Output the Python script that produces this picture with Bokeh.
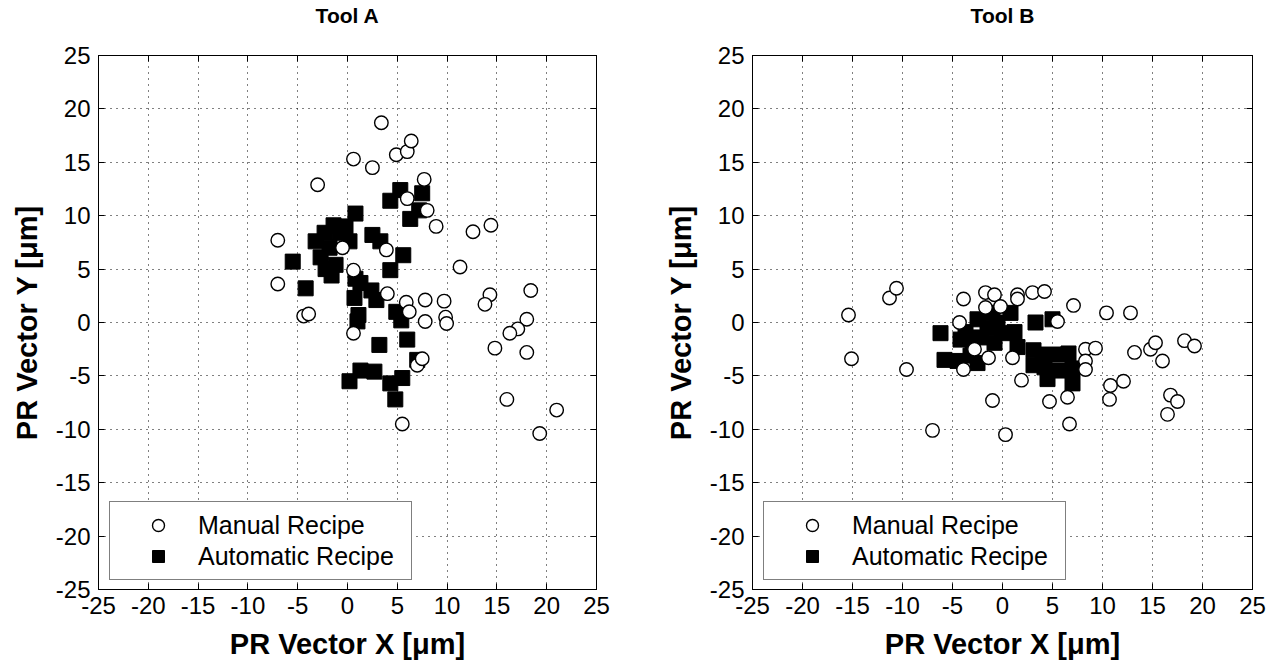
from bokeh.plotting import figure
from bokeh.models import (LinearAxis, Legend, LegendItem, Range1d, FixedTicker,
                          CustomLabelingPolicy)
from bokeh.layouts import row
from bokeh.embed import file_html
from bokeh.resources import INLINE

FONT = "Liberation Sans"

ticks = [-25, -20, -15, -10, -5, 0, 5, 10, 15, 20, 25]
tick_labels = ["-25", "-20", "-15", "-10", "-5", "0", "5", "10", "15", "20", "25"]
titles = ["Tool A", "Tool B"]
series_names = ["Manual Recipe", "Automatic Recipe"]
x_label = "PR Vector X [\u03bcm]"
y_label = "PR Vector Y [\u03bcm]"

# Tool A - Manual Recipe
a_manual_x = [-7.0, -7.0, -4.4, -3.9, -3.0, -0.5, 0.6, 0.6, 0.6, 2.5, 3.4, 4.0, 3.9, 4.9, 6.0,
              6.4, 6.0, 7.7, 8.0, 8.9, 5.9, 6.2, 7.8, 7.8, 9.7, 9.85, 9.95, 11.3, 12.6, 14.4,
              14.3, 13.8, 18.4, 18.0, 17.1, 16.3, 14.8, 18.0, 16.0, 21.0, 19.3, 5.5, 7.0, 7.5]
a_manual_y = [7.7, 3.6, 0.6, 0.8, 12.9, 7.0, 4.9, -1.0, 15.3, 14.5, 18.7, 2.7, 6.8, 15.7, 16.0,
              17.0, 11.6, 13.4, 10.5, 9.0, 1.9, 1.0, 2.1, 0.1, 2.0, 0.5, -0.1, 5.2, 8.5, 9.1,
              2.6, 1.7, 3.0, 0.3, -0.6, -1.0, -2.4, -2.8, -7.2, -8.2, -10.4, -9.5, -4.0, -3.4]

# Tool A - Automatic Recipe
a_auto_x = [-5.5, -4.2, -3.2, -2.7, -2.3, -2.2, -1.8, -1.4, -1.2, -0.8, -0.2, 0.2, 0.8, -1.6,
            0.8, 1.3, 2.5, 3.3, 5.6, 4.3, 2.4, 2.9, 0.7, 1.1, 1.0, 4.9, 5.4, 6.0, 3.2, 7.0,
            1.3, 2.7, 0.2, 4.3, 5.5, 4.8, 5.3, 4.3, 7.5, 7.2, 6.3]
a_auto_y = [5.7, 3.2, 7.6, 6.1, 8.4, 5.0, 7.0, 9.1, 5.4, 8.4, 9.0, 7.6, 10.2, 4.4,
            4.1, 3.7, 8.2, 7.6, 6.3, 4.9, 3.0, 2.1, 2.3, 0.7, 0.1, 1.0, 0.2, -1.6, -2.1, -3.5,
            -4.5, -4.6, -5.5, -5.7, -5.2, -7.2, 12.4, 11.4, 12.1, 10.5, 9.7]

# Tool B - Manual Recipe
b_manual_x = [-15.4, -15.1, -11.3, -10.6, -9.6, -7.0, -3.9, -4.3, -3.9, -1.7, -0.8, -1.7, -0.2,
              1.5, 1.5, 3.0, 4.2, 7.1, 10.4, 12.8, 5.5, -1.0, 0.3, 1.9, 1.0, -1.4, -2.8, 4.7,
              6.5, 6.7, 8.3, 9.3, 8.3, 8.3, 10.8, 12.1, 10.7, 13.2, 14.8, 15.3, 16.0, 18.2,
              19.2, 16.8, 17.5, 16.5]
b_manual_y = [0.7, -3.4, 2.3, 3.2, -4.4, -10.1, 2.2, 0.0, -4.4, 2.8, 2.6, 1.4, 1.5,
              2.6, 2.2, 2.8, 2.9, 1.6, 0.9, 0.9, 0.1, -7.3, -10.5, -5.4, -3.3, -3.3, -2.5, -7.4,
              -7.0, -9.5, -2.5, -2.4, -3.6, -4.4, -5.9, -5.5, -7.2, -2.8, -2.5, -1.9, -3.6, -1.7,
              -2.2, -6.8, -7.4, -8.6]

# Tool B - Automatic Recipe
b_auto_x = [-6.2, -5.8, -4.2, -4.5, -3.7, -3.2, -2.5, -2.5, -2.2, -1.0, -0.8, -0.5, 0.8, 1.2,
            1.5, -1.5, -3.0, 0.0, 3.3, 5.0, 3.1, 3.1, 4.0, 4.5, 5.5, 5.5, 6.6, 7.0, 7.0, 4.2]
b_auto_y = [-1.0, -3.5, -1.6, -3.6, -0.9, -3.1, 0.3, -3.8, -1.4, 0.9, -1.9, 0.0, 0.9, -0.9,
            -2.3, -0.5, -2.0, -1.0, 0.0, 0.3, -2.6, -4.0, -3.0, -5.3, -3.0, -4.5, -2.9, -4.3,
            -5.7, -4.2]

label_map = {t: s for t, s in zip(ticks, tick_labels)}
blank_map = {t: "" for t in ticks}
NO_LABELS = "for (const i of indices) indices.unset(i)"


def make_panel(title, mx, my, ax, ay, left, right):
    p = figure(width=637, height=662, x_range=Range1d(ticks[0], ticks[-1]),
               y_range=Range1d(ticks[0], ticks[-1]),
               output_backend="svg", toolbar_location=None, title=None,
               min_border_left=left, min_border_right=right,
               min_border_top=55, min_border_bottom=72,
               x_axis_label=x_label, y_axis_label=y_label)
    p.outline_line_color = "black"
    p.outline_line_width = 1

    for ax_ in (p.xaxis[0], p.yaxis[0]):
        ax_.ticker = FixedTicker(ticks=ticks)
        ax_.major_label_overrides = label_map
        ax_.major_label_text_font = FONT
        ax_.major_label_text_font_size = "24px"
        ax_.major_label_text_color = "black"
        ax_.major_tick_in = 6
        ax_.major_tick_out = 0
        ax_.minor_tick_line_color = None
        ax_.axis_line_color = "black"
        ax_.major_tick_line_color = "black"
        ax_.axis_label_text_font = FONT
        ax_.axis_label_text_font_size = "29px"
        ax_.axis_label_text_font_style = "bold"
        ax_.axis_label_text_color = "black"
    p.xaxis[0].major_label_standoff = 7
    p.xaxis[0].axis_label_standoff = 11
    p.yaxis[0].major_label_standoff = 8
    p.yaxis[0].axis_label_standoff = 10

    # top axis (carries the panel title) and right axis: inward ticks only
    top = LinearAxis(ticker=FixedTicker(ticks=ticks), major_label_overrides=blank_map,
                     major_label_policy=CustomLabelingPolicy(code=NO_LABELS),
                     major_label_text_font_size="12px",
                     major_tick_in=6, major_tick_out=0, minor_tick_line_color=None,
                     axis_line_color="black", major_label_standoff=0,
                     axis_label=title, axis_label_text_font=FONT,
                     axis_label_text_font_size="21px", axis_label_text_font_style="bold",
                     axis_label_text_color="black", axis_label_standoff=29)
    p.add_layout(top, "above")
    rgt = LinearAxis(ticker=FixedTicker(ticks=ticks), major_label_overrides=blank_map,
                     major_label_policy=CustomLabelingPolicy(code=NO_LABELS),
                     major_label_text_font_size="12px",
                     major_tick_in=6, major_tick_out=0, minor_tick_line_color=None,
                     axis_line_color="black", major_label_standoff=0)
    p.add_layout(rgt, "right")

    for g in (p.xgrid[0], p.ygrid[0]):
        g.ticker = FixedTicker(ticks=ticks)
        g.grid_line_color = "black"
        g.grid_line_dash = "1 5"
        g.grid_line_width = 1

    r_auto = p.scatter(ax, ay, marker="square", size=15, fill_color="black",
                       line_color="black", line_width=1)
    r_man = p.scatter(mx, my, marker="circle", size=13.5, fill_color="white",
                      line_color="black", line_width=1.4)

    legend = Legend(items=[LegendItem(label=series_names[0], renderers=[r_man]),
                           LegendItem(label=series_names[1], renderers=[r_auto])],
                    location=(11, 9), padding=8, spacing=1, glyph_height=30, glyph_width=80,
                    label_standoff=0, label_width=205, label_text_font=FONT,
                    label_text_font_size="25px", label_text_color="black",
                    border_line_color="black", border_line_width=1,
                    background_fill_color="white", background_fill_alpha=1, margin=0)
    p.add_layout(legend)
    return p


pa = make_panel(titles[0], a_manual_x, a_manual_y, a_auto_x, a_auto_y, 98, 41)
pb = make_panel(titles[1], b_manual_x, b_manual_y, b_auto_x, b_auto_y, 115, 22)

layout = row(pa, pb)
open("out.html", "w").write(file_html(layout, INLINE))
